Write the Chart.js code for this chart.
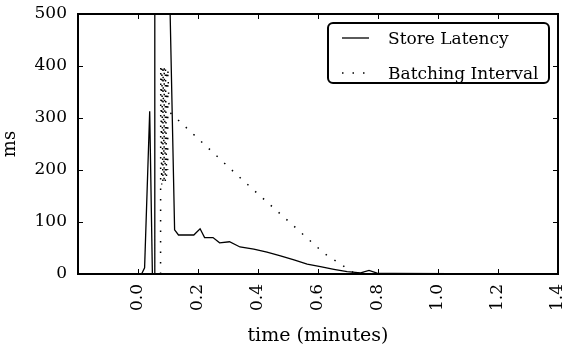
<!DOCTYPE html>
<html>
<head>
<meta charset="utf-8">
<script src="https://cdn.jsdelivr.net/npm/chart.js@4"></script>
<style>
  html, body { margin: 0; padding: 0; background: #fff; }
  canvas { display: block; }
</style>
</head>
<body>
<canvas id="latencyChart" width="568" height="347"></canvas>
<script>
// store latency over time (minutes -> ms)
const latencyTime = [-0.008, 0.012, 0.022, 0.039, 0.048, 0.055, 0.056, 0.100, 0.122, 0.135,
  0.186, 0.207, 0.222, 0.250, 0.272, 0.305, 0.340, 0.386, 0.430, 0.475,
  0.520, 0.564, 0.608, 0.653, 0.697, 0.742, 0.770, 0.797, 0.850, 1.040];
const latencyMs = [0, 0, 12, 313, 0, 0, 700, 700, 85, 75,
  75, 87, 70, 70, 60, 62, 52, 48, 42, 35,
  27, 19, 14, 9, 4.5, 2, 7, 1.5, 1, 0.5];

// batching interval (ms)
const batchTime = [0.0752, 0.0758, 0.079, 0.0795, 0.083, 0.0835, 0.087, 0.0875, 0.091, 0.0915,
  0.095, 0.0955, 0.099, 0.0995, 0.104, 0.350, 0.620, 0.720, 0.800];
const batchMs = [0, 400, 172, 398, 175, 395, 180, 400, 176, 397,
  185, 392, 200, 395, 312, 180, 40, 2, 0];

const seriesLabels = ['Store Latency', 'Batching Interval'];
const yTicks = [0, 100, 200, 300, 400, 500];

const FONT = '"DejaVu Serif", serif';

function points(xs, ys) {
  return xs.map((x, i) => ({ x: x, y: ys[i] }));
}

// axes frame, inward tick marks and the boxed legend
const framePlugin = {
  id: 'frame',
  afterDatasetsDraw(chart) {
    const { ctx, chartArea: a, scales } = chart;
    const xs = scales.x, ys = scales.y;
    ctx.save();
    ctx.strokeStyle = '#000';
    ctx.lineWidth = 1;
    const seg = (x1, y1, x2, y2) => {
      ctx.beginPath();
      ctx.moveTo(x1, y1);
      ctx.lineTo(x2, y2);
      ctx.stroke();
    };
    xs.ticks.forEach(t => {
      const px = Math.round(xs.getPixelForValue(t.value)) + 0.5;
      seg(px, a.bottom, px, a.bottom - 5);
      seg(px, a.top, px, a.top + 5);
    });
    ys.ticks.forEach(t => {
      const py = Math.round(ys.getPixelForValue(t.value)) + 0.5;
      seg(a.left, py, a.left + 5, py);
      seg(a.right, py, a.right - 5, py);
    });
    ctx.lineWidth = 2;
    ctx.strokeRect(a.left, a.top, a.right - a.left, a.bottom - a.top);

    // legend
    const bx = a.right - 230, by = a.top + 9, bw = 221, bh = 60;
    ctx.fillStyle = '#fff';
    ctx.beginPath();
    ctx.roundRect(bx, by, bw, bh, 5);
    ctx.fill();
    ctx.stroke();
    ctx.font = '17px ' + FONT;
    ctx.fillStyle = '#000';
    ctx.textBaseline = 'alphabetic';
    chart.data.datasets.forEach((ds, i) => {
      const base = by + 21 + i * 35;
      ctx.lineWidth = ds.borderWidth;
      ctx.setLineDash(ds.borderDash || []);
      seg(bx + 14, base - 6, bx + 41, base - 6);
      ctx.setLineDash([]);
      ctx.fillText(ds.label, bx + 60, base);
    });
    ctx.restore();
  }
};

new Chart(document.getElementById('latencyChart'), {
  type: 'line',
  data: {
    datasets: [
      {
        label: seriesLabels[0],
        data: points(latencyTime, latencyMs),
        borderColor: '#000',
        borderWidth: 1.3,
        pointRadius: 0,
        tension: 0,
        fill: false
      },
      {
        label: seriesLabels[1],
        data: points(batchTime, batchMs),
        borderColor: '#000',
        borderWidth: 1.5,
        borderDash: [1.5, 9],
        pointRadius: 0,
        tension: 0,
        fill: false
      }
    ]
  },
  options: {
    responsive: false,
    animation: false,
    events: [],
    layout: { padding: { top: 14, right: 10, left: 0, bottom: 0 } },
    plugins: {
      legend: { display: false },
      tooltip: { enabled: false }
    },
    scales: {
      x: {
        type: 'linear',
        min: -0.2,
        max: 1.4,
        afterFit: s => {
          s.height = 73;
          s.paddingLeft = 0;
          s.paddingRight = 0;
        },
        grid: { display: false, drawTicks: false },
        border: { display: false },
        ticks: {
          stepSize: 0.2,
          autoSkip: false,
          minRotation: 90,
          maxRotation: 90,
          padding: 10,
          color: '#000',
          font: { family: FONT, size: 17 },
          callback: v => (v < -0.01 ? '' : Math.abs(v).toFixed(1))
        },
        title: {
          display: true,
          text: 'time (minutes)',
          color: '#000',
          font: { family: FONT, size: 19 },
          padding: { top: 0, bottom: 0 }
        }
      },
      y: {
        min: 0,
        max: 500,
        afterFit: s => {
          s.width = 78;
          s.paddingTop = 0;
          s.paddingBottom = 0;
        },
        afterBuildTicks: s => { s.ticks = yTicks.map(v => ({ value: v })); },
        grid: { display: false, drawTicks: false },
        border: { display: false },
        ticks: {
          padding: 11,
          color: '#000',
          font: { family: FONT, size: 17 }
        },
        title: {
          display: true,
          text: 'ms',
          color: '#000',
          font: { family: FONT, size: 18 },
          padding: { top: 0, bottom: 4 }
        }
      }
    }
  },
  plugins: [framePlugin]
});
</script>
</body>
</html>
